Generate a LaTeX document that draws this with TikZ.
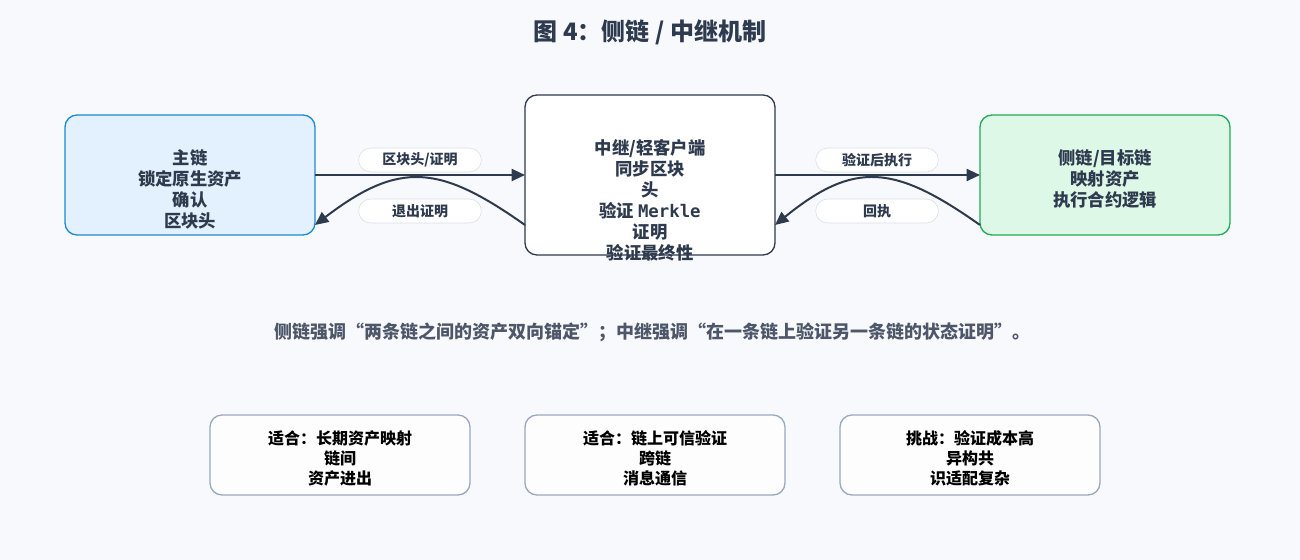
\documentclass[tikz,border=0pt]{standalone}
\usepackage{fontspec}
\setmainfont{Noto Sans CJK SC}
\setmonofont{DejaVu Sans Mono}
\usetikzlibrary{arrows.meta}
\definecolor{bg}{HTML}{F7F9FD}
\definecolor{ink}{HTML}{2E3A4E}
\definecolor{bluef}{HTML}{E2F1FD}
\definecolor{blues}{HTML}{1E8AD0}
\definecolor{greenf}{HTML}{DDF8E6}
\definecolor{greens}{HTML}{22AA55}
\definecolor{grays}{HTML}{9AA8BF}
\definecolor{pill}{HTML}{D8DDE4}
\begin{document}
\begin{tikzpicture}[x=0.75pt,y=-0.75pt,
  box/.style={draw, rounded corners=9pt, line width=1pt, minimum width=187.5pt, minimum height=90pt},
  txt/.style={align=center, font=\bfseries\fontsize{13}{15.75}\selectfont, text=ink, inner sep=0pt},
  lab/.style={draw=pill, fill=white, rounded corners=9pt, minimum width=92pt, minimum height=18pt, font=\bfseries\fontsize{10.5}{11}\selectfont, text=ink, inner sep=0pt},
  arr/.style={draw=ink, line width=1.5pt, -{Triangle[length=10pt,width=9pt]}},
  bot/.style={draw=grays, fill=white!70!bg, rounded corners=9pt, line width=1pt, minimum width=195pt, minimum height=60pt},
  bott/.style={align=center, font=\bfseries\fontsize{12}{15}\selectfont, text=black, inner sep=0pt}]
\fill[bg] (0,0) rectangle (1300,560);
\node[font=\bfseries\fontsize{18}{20}\selectfont, text=ink] (title) at (650,32) {图\ 4：侧链\ /\ 中继机制};
\node[box, draw=blues, fill=bluef] (main) at (190,175) {};
\node[txt] (maint) at (190,189) {主链\\锁定原生资产\\确认\\区块头};
\node[box, draw=ink, fill=white, minimum height=120pt] (relay) at (650,175) {};
\node[txt] (relayt) at (650,200) {中继/轻客户端\\同步区块\\头\\验证 {\ttfamily Merkle}\\证明\\验证最终性};
\node[box, draw=greens, fill=greenf] (side) at (1105,175) {};
\node[txt] (sidet) at (1105,179) {侧链/目标链\\映射资产\\执行合约逻辑};
\coordinate (a1) at (315,175); \coordinate (b1) at (525,175);
\coordinate (a2) at (315,225); \coordinate (b2) at (525,225);
\coordinate (c1) at (775,175); \coordinate (d1) at (980,175);
\coordinate (c2) at (775,225); \coordinate (d2) at (980,225);
\draw[arr] (a1) -- (b1);
\draw[arr] (b2) .. controls (440,165) and (400,160) .. (a2);
\draw[arr] (c1) -- (d1);
\draw[arr] (d2) .. controls (895,165) and (855,160) .. (c2);
\node[lab] (l1) at (420,160) {区块头/证明};
\node[lab] (l2) at (420,211) {退出证明};
\node[lab] (l3) at (877,160) {验证后执行};
\node[lab] (l4) at (877,211) {回执};
\node[font=\bfseries\fontsize{13.5}{15}\selectfont, text=ink!85] (cap) at (652,332) {侧链强调“两条链之间的资产双向锚定”；中继强调“在一条链上验证另一条链的状态证明”。};
\node[bot] (p1) at (340,455) {};
\node[bott] at (340,458) {适合：长期资产映射\\链间\\资产进出};
\node[bot] (p2) at (655,455) {};
\node[bott] at (655,458) {适合：链上可信验证\\跨链\\消息通信};
\node[bot] (p3) at (970,455) {};
\node[bott] at (970,458) {挑战：验证成本高\\异构共\\识适配复杂};
\end{tikzpicture}
\end{document}
